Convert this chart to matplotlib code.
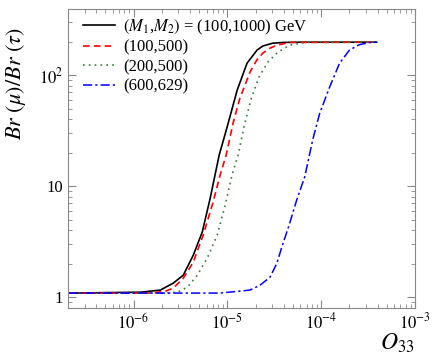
import numpy as np
import matplotlib
matplotlib.use("Agg")
import matplotlib.pyplot as plt
from matplotlib.ticker import FixedLocator, FixedFormatter, LogLocator, NullFormatter

plt.rcParams['font.family'] = 'Liberation Serif'
plt.rcParams['mathtext.fontset'] = 'stix'

# curves: O_33 vs Br(mu)/Br(tau)
x_black = [2.0e-7, 1.19e-6, 1.93e-6, 2.65e-6, 3.39e-6, 4.33e-6, 5.39e-6, 6.56e-6, 8.17e-6,
           9.93e-6, 1.27e-5, 1.62e-5, 2.07e-5, 2.39e-5, 3.05e-5, 4.0e-5, 5.9e-5, 3.9e-4]
y_black = [1.09, 1.11, 1.16, 1.34, 1.58, 2.39, 3.85, 7.8, 19.0,
           34, 73, 128, 168, 183, 194, 197, 198, 198]

x_red = [2.0e-7, 1.51e-6, 2.18e-6, 2.65e-6, 3.39e-6, 4.33e-6, 5.52e-6, 7.05e-6, 8.37e-6,
         9.7e-6, 1.15e-5, 1.36e-5, 1.74e-5, 2.05e-5, 2.39e-5, 2.85e-5, 3.37e-5, 4.6e-5, 3.9e-4]
y_red = [1.09, 1.09, 1.13, 1.21, 1.48, 2.07, 3.62, 7.2, 12.6,
         19.0, 37, 62, 106, 136, 158, 175, 186, 197, 198]

x_green = [2.0e-7, 1.93e-6, 2.93e-6, 3.74e-6, 4.78e-6, 6.10e-6, 7.78e-6, 9.46e-6, 1.12e-5,
           1.30e-5, 1.50e-5, 1.78e-5, 2.17e-5, 2.70e-5, 3.45e-5, 4.62e-5, 6.67e-5, 3.9e-4]
y_green = [1.09, 1.09, 1.11, 1.23, 1.58, 2.25, 3.62, 6.7, 12.6,
           19.0, 34, 60, 96, 131, 161, 186, 197, 198]

x_blue = [2.0e-7, 8.37e-6, 1.74e-5, 2.22e-5, 2.84e-5, 3.37e-5, 3.80e-5, 4.62e-5, 5.48e-5,
          6.67e-5, 8.11e-5, 9.62e-5, 1.23e-4, 1.57e-4, 2.0e-4, 2.55e-4, 3.2e-4, 3.87e-4]
y_blue = [1.09, 1.09, 1.16, 1.28, 1.51, 2.02, 2.82, 4.64, 7.5,
          12.1, 26, 45, 78, 128, 168, 188, 196, 198]

labels = [r'$(M_1$,$M_2)$ = (100,1000) GeV', '(100,500)', '(200,500)', '(600,629)']

fig = plt.figure(figsize=(4.36, 3.54), dpi=100)
ax = fig.add_axes([68/436, 1 - 308/354, 347/436, 299/354])

ax.plot(x_black, y_black, color='black', lw=1.2, label=labels[0])
ax.plot(x_red, y_red, color='red', lw=1.2, ls=(0, (4, 2.5)), label=labels[1])
ax.plot(x_green, y_green, color='#3a7a3a', lw=1.2, ls=(0, (1, 2.5)), label=labels[2])
ax.plot(x_blue, y_blue, color='blue', lw=1.1, ls=(0, (6, 2, 1.5, 2)), label=labels[3])

ax.set_xscale('log')
ax.set_yscale('log')
ax.set_xlim(2.0e-7, 1e-3)
ax.set_ylim(0.8, 394)

ax.yaxis.set_major_locator(FixedLocator([1, 10, 100]))
ax.yaxis.set_major_formatter(FixedFormatter(['1', '10', r'$10^2$']))
ax.yaxis.set_minor_locator(LogLocator(base=10, subs=np.arange(2, 10)))
ax.yaxis.set_minor_formatter(NullFormatter())
ax.xaxis.set_major_locator(FixedLocator([1e-6, 1e-5, 1e-4, 1e-3]))
ax.xaxis.set_major_formatter(FixedFormatter([r'$10^{-6}$', r'$10^{-5}$', r'$10^{-4}$', r'$10^{-3}$']))
ax.xaxis.set_minor_locator(LogLocator(base=10, subs=np.arange(2, 10)))
ax.xaxis.set_minor_formatter(NullFormatter())

for s in ax.spines.values():
    s.set_color('#888888')
ax.tick_params(which='both', direction='in', top=True, right=True, color='#888888', labelsize=12)
ax.tick_params(which='major', length=6)
ax.tick_params(which='minor', length=3)

ax.set_ylabel(r'$Br\ (\mu)/Br\ (\tau)$', fontsize=16)
ax.yaxis.set_label_coords(-0.115, 0.75)
ax.set_xlabel(r'$O_{33}$', fontsize=17)
ax.xaxis.set_label_coords(0.95, -0.08)

ax.legend(loc='upper left', frameon=False, fontsize=12, handlelength=1.9,
          labelspacing=0.2, borderaxespad=0.1, handletextpad=0.5,
          bbox_to_anchor=(0.02, 1.0))

plt.savefig('out.png', dpi=100)
